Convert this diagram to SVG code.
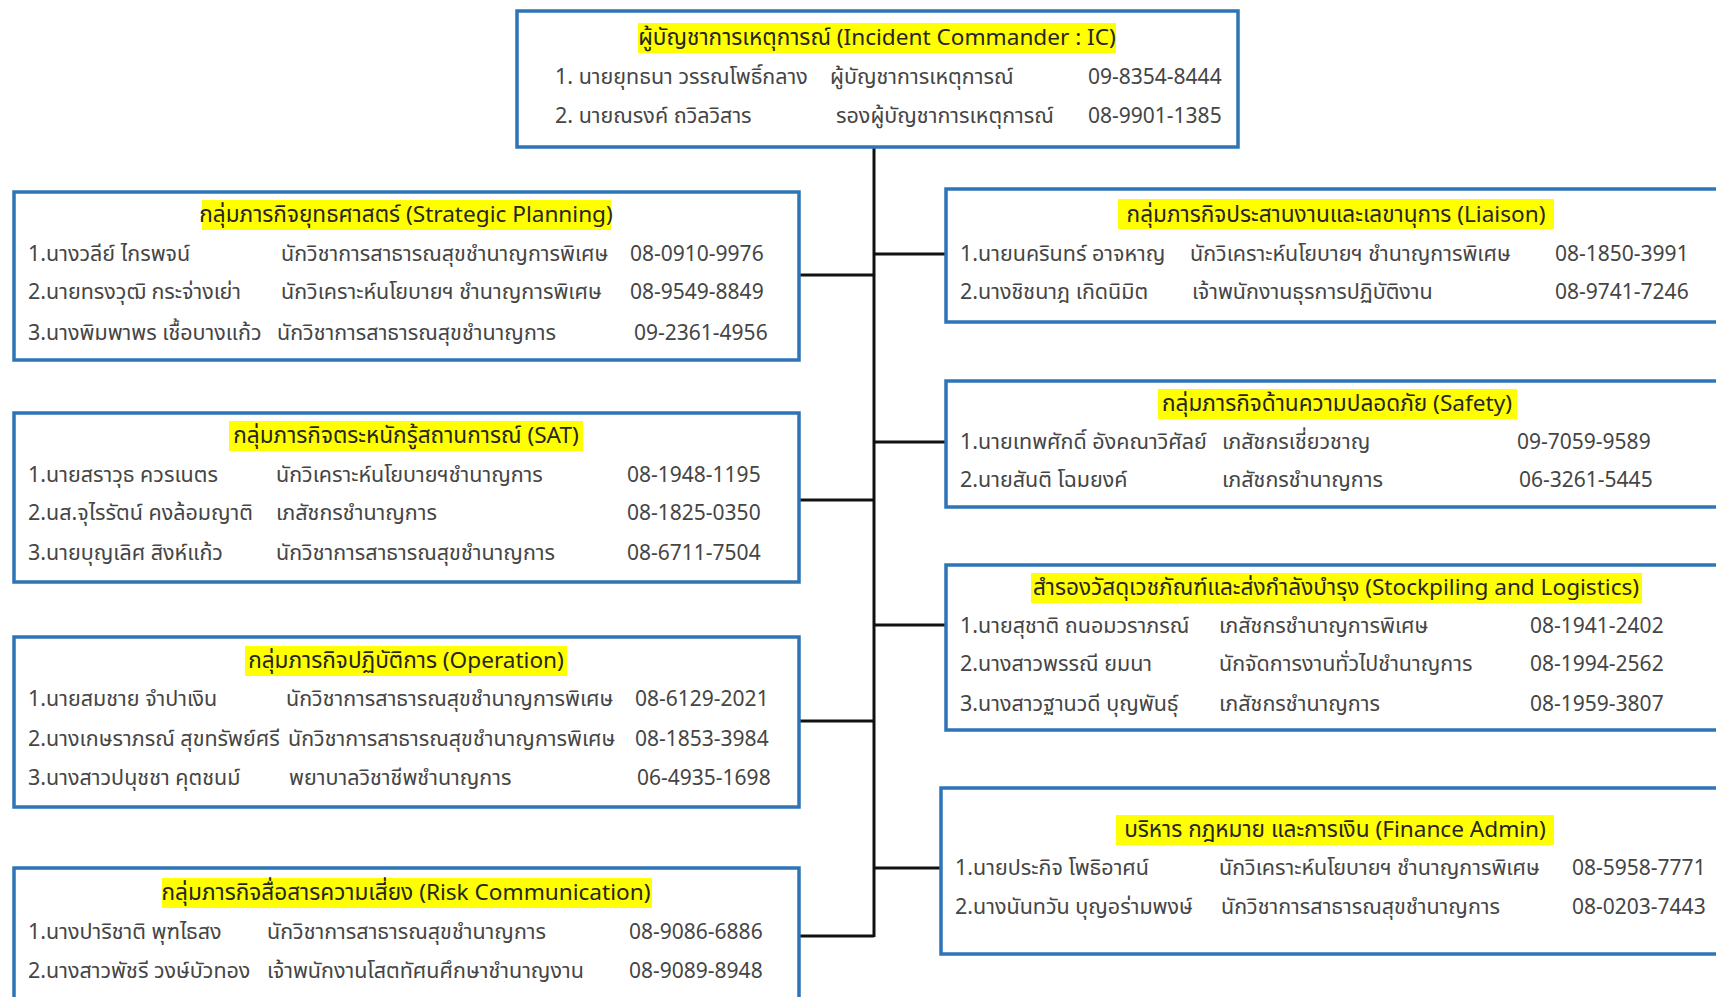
<svg xmlns="http://www.w3.org/2000/svg" width="1716" height="997" viewBox="0 0 1716 997" xml:space="preserve">
<style>
.bg{fill:#ffffff}
.box{fill:#ffffff;stroke:#2E75B6;stroke-width:3.5}
.hl{fill:#FFFF00}
text{font-family:"Noto Sans","Noto Sans Thai","Leelawadee UI",Tahoma,sans-serif}
.t{font-size:22.6px;fill:#262626;text-anchor:middle}
.r{font-size:21.5px;fill:#454545}
.p{font-size:21px;fill:#454545}
.conn{stroke:#111111;stroke-width:3;fill:none}
</style>
<rect class="bg" x="0" y="0" width="1716" height="997"/>
<g id="connectors">
<path class="conn" d="M874 147 V937"/>
<path class="conn" d="M799 275 H874 M799 500 H874 M799 721 H874 M799 936 H874"/>
<path class="conn" d="M874 254 H946 M874 442 H946 M874 625 H946 M874 868 H941"/>
</g>
<g id="ic">
<rect class="box" x="517" y="11" width="721" height="136"/>
<rect class="hl" x="638" y="23" width="478" height="30"/>
<text class="t" x="877" y="45">ผู้บัญชาการเหตุการณ์ (Incident Commander : IC)</text>
<text class="r" x="555" y="84">1. นายยุทธนา  วรรณโพธิ์กลาง</text>
<text class="r" x="830" y="84">ผู้บัญชาการเหตุการณ์</text>
<text class="p" x="1088" y="84">09-8354-8444</text>
<text class="r" x="555" y="123">2. นายณรงค์  ถวิลวิสาร</text>
<text class="r" x="836" y="123">รองผู้บัญชาการเหตุการณ์</text>
<text class="p" x="1088" y="123">08-9901-1385</text>
</g>
<g id="strategic">
<rect class="box" x="14" y="192" width="785" height="168"/>
<rect class="hl" x="202" y="200" width="409" height="30"/>
<text class="t" x="406" y="222">กลุ่มภารกิจยุทธศาสตร์ (Strategic Planning)</text>
<text class="r" x="28" y="261">1.นางวลีย์  ไกรพจน์</text>
<text class="r" x="281" y="261">นักวิชาการสาธารณสุขชำนาญการพิเศษ</text>
<text class="p" x="630" y="261">08-0910-9976</text>
<text class="r" x="28" y="299">2.นายทรงวุฒิ กระจ่างเย่า</text>
<text class="r" x="281" y="299">นักวิเคราะห์นโยบายฯ ชำนาญการพิเศษ</text>
<text class="p" x="630" y="299">08-9549-8849</text>
<text class="r" x="28" y="340">3.นางพิมพาพร  เชื้อบางแก้ว</text>
<text class="r" x="277" y="340">นักวิชาการสาธารณสุขชำนาญการ</text>
<text class="p" x="634" y="340">09-2361-4956</text>
</g>
<g id="sat">
<rect class="box" x="14" y="413" width="785" height="169"/>
<rect class="hl" x="229" y="421" width="354" height="30"/>
<text class="t" x="406" y="443">กลุ่มภารกิจตระหนักรู้สถานการณ์ (SAT)</text>
<text class="r" x="28" y="482">1.นายสราวุธ  ควรเนตร</text>
<text class="r" x="276" y="482">นักวิเคราะห์นโยบายฯชำนาญการ</text>
<text class="p" x="627" y="482">08-1948-1195</text>
<text class="r" x="28" y="520">2.นส.จุไรรัตน์  คงล้อมญาติ</text>
<text class="r" x="276" y="520">เภสัชกรชำนาญการ</text>
<text class="p" x="627" y="520">08-1825-0350</text>
<text class="r" x="28" y="560">3.นายบุญเลิศ  สิงห์แก้ว</text>
<text class="r" x="276" y="560">นักวิชาการสาธารณสุขชำนาญการ</text>
<text class="p" x="627" y="560">08-6711-7504</text>
</g>
<g id="operation">
<rect class="box" x="14" y="637" width="785" height="170"/>
<rect class="hl" x="245" y="646" width="322" height="30"/>
<text class="t" x="406" y="668">กลุ่มภารกิจปฏิบัติการ (Operation)</text>
<text class="r" x="28" y="706">1.นายสมชาย จำปาเงิน</text>
<text class="r" x="286" y="706">นักวิชาการสาธารณสุขชำนาญการพิเศษ</text>
<text class="p" x="635" y="706">08-6129-2021</text>
<text class="r" x="28" y="746">2.นางเกษราภรณ์ สุขทรัพย์ศรี</text>
<text class="r" x="288" y="746">นักวิชาการสาธารณสุขชำนาญการพิเศษ</text>
<text class="p" x="635" y="746">08-1853-3984</text>
<text class="r" x="28" y="785">3.นางสาวปนุชชา คุตชนม์</text>
<text class="r" x="289" y="785">พยาบาลวิชาชีพชำนาญการ</text>
<text class="p" x="637" y="785">06-4935-1698</text>
</g>
<g id="risk">
<rect class="box" x="14" y="868" width="785" height="150"/>
<rect class="hl" x="162" y="878" width="490" height="30"/>
<text class="t" x="406" y="900">กลุ่มภารกิจสื่อสารความเสี่ยง (Risk Communication)</text>
<text class="r" x="28" y="939">1.นางปาริชาติ  พุฑไธสง</text>
<text class="r" x="267" y="939">นักวิชาการสาธารณสุขชำนาญการ</text>
<text class="p" x="629" y="939">08-9086-6886</text>
<text class="r" x="28" y="978">2.นางสาวพัชรี วงษ์บัวทอง</text>
<text class="r" x="267" y="978">เจ้าพนักงานโสตทัศนศึกษาชำนาญงาน</text>
<text class="p" x="629" y="978">08-9089-8948</text>
</g>
<g id="liaison">
<rect class="box" x="946" y="189" width="800" height="133"/>
<rect class="hl" x="1118" y="199" width="436" height="30"/>
<text class="t" x="1336" y="222">กลุ่มภารกิจประสานงานและเลขานุการ (Liaison)</text>
<text class="r" x="960" y="261">1.นายนครินทร์ อาจหาญ</text>
<text class="r" x="1190" y="261">นักวิเคราะห์นโยบายฯ ชำนาญการพิเศษ</text>
<text class="p" x="1555" y="261">08-1850-3991</text>
<text class="r" x="960" y="299">2.นางชิชนาฎ เกิดนิมิต</text>
<text class="r" x="1192" y="299">เจ้าพนักงานธุรการปฏิบัติงาน</text>
<text class="p" x="1555" y="299">08-9741-7246</text>
</g>
<g id="safety">
<rect class="box" x="946" y="381" width="800" height="126"/>
<rect class="hl" x="1158" y="389" width="359" height="30"/>
<text class="t" x="1337" y="411">กลุ่มภารกิจด้านความปลอดภัย (Safety)</text>
<text class="r" x="960" y="449">1.นายเทพศักดิ์ อังคณาวิศัลย์</text>
<text class="r" x="1222" y="449">เภสัชกรเชี่ยวชาญ</text>
<text class="p" x="1517" y="449">09-7059-9589</text>
<text class="r" x="960" y="487">2.นายสันติ  โฉมยงค์</text>
<text class="r" x="1222" y="487">เภสัชกรชำนาญการ</text>
<text class="p" x="1519" y="487">06-3261-5445</text>
</g>
<g id="stockpiling">
<rect class="box" x="946" y="565" width="800" height="165"/>
<rect class="hl" x="1031" y="573" width="611" height="30"/>
<text class="t" x="1336" y="595">สำรองวัสดุเวชภัณฑ์และส่งกำลังบำรุง (Stockpiling and Logistics)</text>
<text class="r" x="960" y="633">1.นายสุชาติ ถนอมวราภรณ์</text>
<text class="r" x="1219" y="633">เภสัชกรชำนาญการพิเศษ</text>
<text class="p" x="1530" y="633">08-1941-2402</text>
<text class="r" x="960" y="671">2.นางสาวพรรณี  ยมนา</text>
<text class="r" x="1219" y="671">นักจัดการงานทั่วไปชำนาญการ</text>
<text class="p" x="1530" y="671">08-1994-2562</text>
<text class="r" x="960" y="711">3.นางสาวฐานวดี บุญพันธุ์</text>
<text class="r" x="1219" y="711">เภสัชกรชำนาญการ</text>
<text class="p" x="1530" y="711">08-1959-3807</text>
</g>
<g id="finance">
<rect class="box" x="941" y="788" width="805" height="166"/>
<rect class="hl" x="1116" y="815" width="438" height="30"/>
<text class="t" x="1335" y="837">บริหาร กฎหมาย และการเงิน (Finance Admin)</text>
<text class="r" x="955" y="875">1.นายประกิจ  โพธิอาศน์</text>
<text class="r" x="1219" y="875">นักวิเคราะห์นโยบายฯ ชำนาญการพิเศษ</text>
<text class="p" x="1572" y="875">08-5958-7771</text>
<text class="r" x="955" y="914">2.นางนันทวัน  บุญอร่ามพงษ์</text>
<text class="r" x="1221" y="914">นักวิชาการสาธารณสุขชำนาญการ</text>
<text class="p" x="1572" y="914">08-0203-7443</text>
</g>
</svg>
